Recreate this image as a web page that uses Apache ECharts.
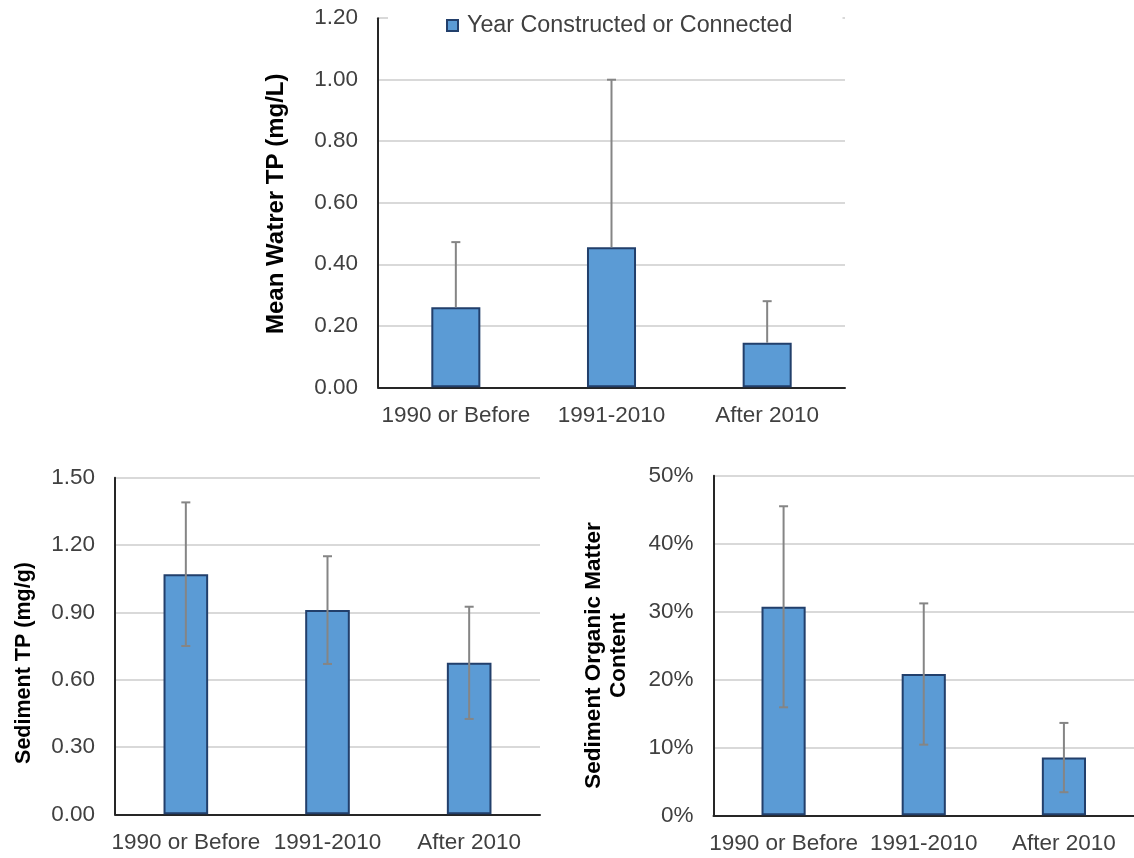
<!DOCTYPE html>
<html>
<head>
<meta charset="utf-8">
<script src="https://cdn.jsdelivr.net/npm/echarts@6/dist/echarts.min.js"></script>
<style>
html,body{margin:0;padding:0;background:#fff;}
#chart{width:1134px;height:858px;}
</style>
</head>
<body>
<div id="chart"></div>
<script>
const categories = ['1990 or Before', '1991-2010', 'After 2010'];
const legendName = 'Year Constructed or Connected';

const waterTP = [0.26, 0.455, 0.145];
const waterTPErr = [0.212, 0.545, 0.135];

const sedimentTP = [1.07, 0.91, 0.675];
const sedimentTPErr = [0.32, 0.24, 0.25];

const organicMatter = [0.307, 0.208, 0.085];
const organicMatterErr = [0.148, 0.104, 0.051];

const waterTicks = [0, 0.2, 0.4, 0.6, 0.8, 1.0, 1.2];
const sedimentTicks = [0, 0.3, 0.6, 0.9, 1.2, 1.5];
const organicTicks = [0, 0.1, 0.2, 0.3, 0.4, 0.5];

const FONT = '"Liberation Sans", Arial, sans-serif';
const LABEL_COLOR = '#404040';
const BAR_FILL = '#5b9bd5';
const BAR_BORDER = '#223f6b';
const ERR_COLOR = '#858585';

function errRenderer(plusOnly) {
  return function (params, api) {
    const x = api.value(0), v = api.value(1), e = api.value(2);
    const top = api.coord([x, v + e]);
    const bot = api.coord([x, plusOnly ? v : v - e]);
    const hw = 4.5;
    const st = { stroke: ERR_COLOR, lineWidth: 2 };
    const children = [
      { type: 'line', shape: { x1: top[0], y1: top[1], x2: bot[0], y2: bot[1] }, style: st },
      { type: 'line', shape: { x1: top[0] - hw, y1: top[1], x2: top[0] + hw, y2: top[1] }, style: st }
    ];
    if (!plusOnly) {
      children.push({ type: 'line', shape: { x1: bot[0] - hw, y1: bot[1], x2: bot[0] + hw, y2: bot[1] }, style: st });
    }
    return { type: 'group', children: children };
  };
}

function xAxis(idx) {
  return {
    type: 'category', gridIndex: idx, data: categories,
    axisLine: { lineStyle: { color: '#262626', width: 2 } },
    axisTick: { show: false },
    axisLabel: { color: LABEL_COLOR, fontSize: 22.5, fontFamily: FONT, margin: 17, interval: 0 }
  };
}

function yAxis(idx, ticks, name, nameGap, fmt, nameSize, namePad) {
  return {
    type: 'value', gridIndex: idx, min: ticks[0], max: ticks[ticks.length - 1],
    interval: ticks[1] - ticks[0],
    name: name, nameLocation: 'middle', nameGap: nameGap, nameRotate: 90,
    nameTextStyle: { fontSize: nameSize, fontWeight: 'bold', color: '#000', fontFamily: FONT, lineHeight: 25, padding: namePad },
    axisLine: { show: true, lineStyle: { color: '#262626', width: 2 } },
    axisTick: { show: false },
    splitLine: { lineStyle: { color: '#d9d9d9', width: 2 } },
    axisLabel: { color: LABEL_COLOR, fontSize: 22.5, fontFamily: FONT, margin: 20, formatter: fmt }
  };
}

function barSeries(idx, values) {
  return {
    type: 'bar', name: legendName, xAxisIndex: idx, yAxisIndex: idx,
    data: values, barWidth: '31.5%',
    itemStyle: { color: BAR_FILL, borderColor: BAR_BORDER, borderWidth: 2 },
    emphasis: { disabled: true }, z: 2
  };
}

function errSeries(idx, values, errs, plusOnly) {
  return {
    type: 'custom', xAxisIndex: idx, yAxisIndex: idx,
    data: values.map((v, i) => [i, v, errs[i]]),
    renderItem: errRenderer(plusOnly), z: 5, silent: true
  };
}

const chart = echarts.init(document.getElementById('chart'), null, { renderer: 'canvas' });
chart.setOption({
  animation: false,
  backgroundColor: '#fff',
  textStyle: { fontFamily: FONT },
  grid: [
    { left: 378, top: 18.2, width: 467, height: 369.1 },
    { left: 115, top: 477.7, width: 425, height: 336.6 },
    { left: 713.5, top: 475.7, width: 426, height: 339.6 }
  ],
  legend: {
    data: [legendName], left: 388, top: 12,
    padding: [2, 50, 2, 58], backgroundColor: '#fff',
    icon: 'rect', itemWidth: 11, itemHeight: 11,
    textStyle: { fontSize: 23.3, color: LABEL_COLOR, fontFamily: FONT, padding: [0, 0, 0, 4] },
    selectedMode: false
  },
  xAxis: [xAxis(0), xAxis(1), xAxis(2)],
  yAxis: [
    yAxis(0, waterTicks, 'Mean Watrer TP (mg/L)', 89, v => v.toFixed(2), 24, [0, 2, 0, 0]),
    yAxis(1, sedimentTicks, 'Sediment TP (mg/g)', 78, v => v.toFixed(2), 21.5, [0, 34, 0, 0]),
    yAxis(2, organicTicks, 'Sediment Organic Matter\nContent', 82, v => Math.round(v * 100) + '%', 22.5, [0, 20, 0, 0])
  ],
  series: [
    barSeries(0, waterTP), errSeries(0, waterTP, waterTPErr, true),
    barSeries(1, sedimentTP), errSeries(1, sedimentTP, sedimentTPErr, false),
    barSeries(2, organicMatter), errSeries(2, organicMatter, organicMatterErr, false)
  ]
});
</script>
</body>
</html>
